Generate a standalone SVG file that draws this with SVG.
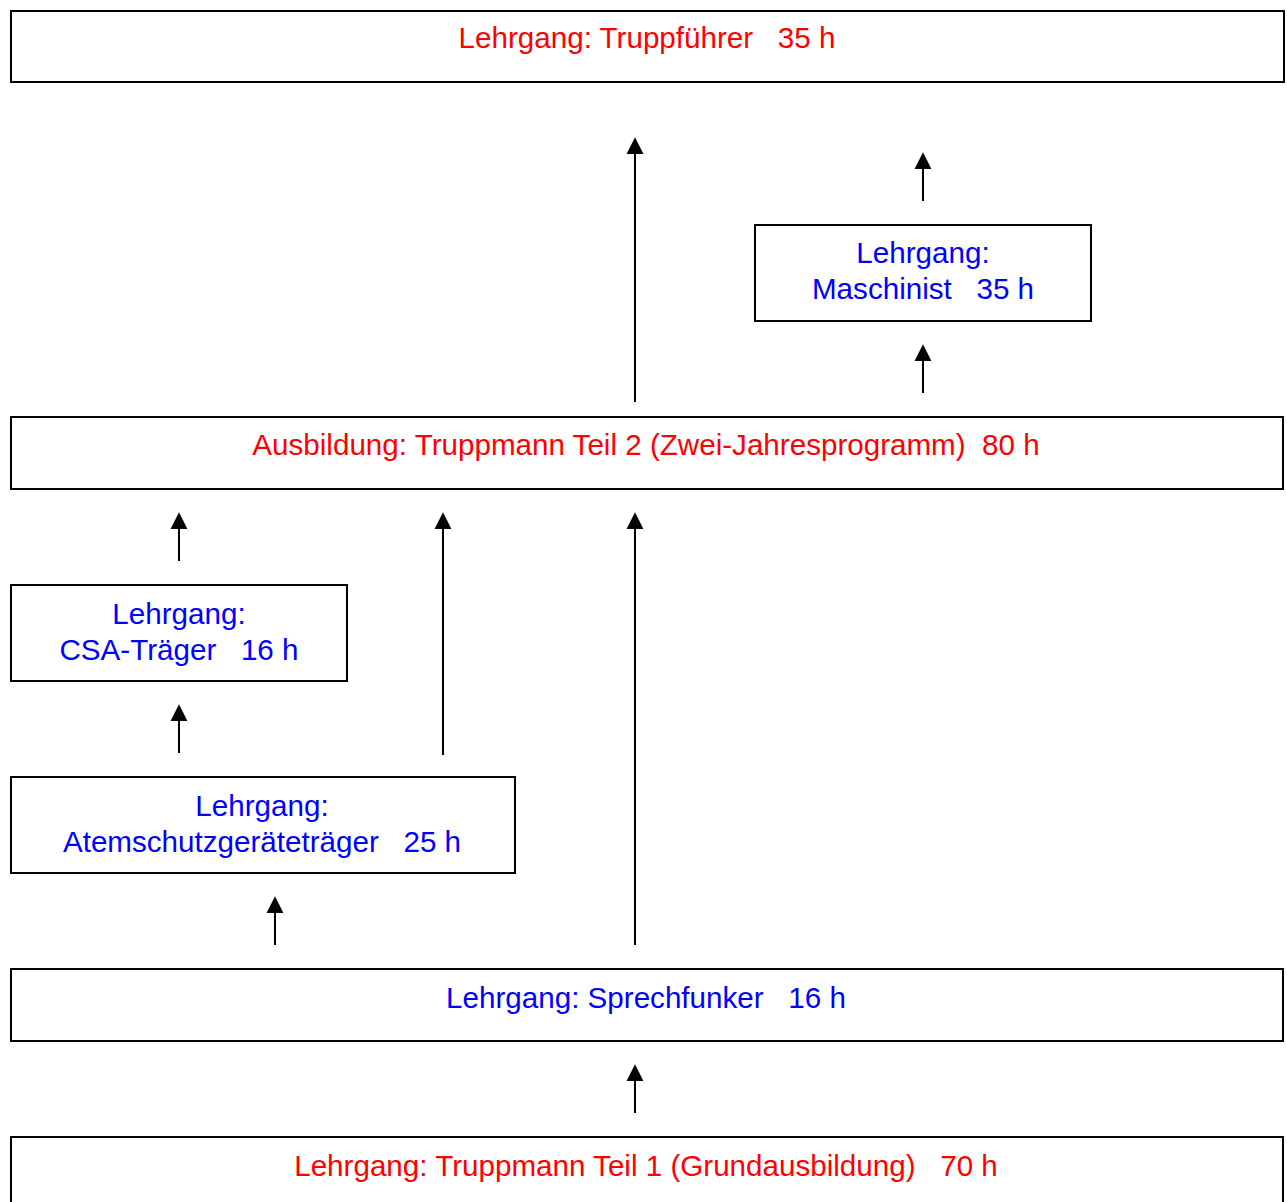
<svg xmlns="http://www.w3.org/2000/svg" width="1287" height="1202" viewBox="0 0 1287 1202">
<style>
.box{fill:#fff;stroke:#000;stroke-width:2}
.t{font-family:"Liberation Sans",Arial,sans-serif;font-size:29.6px;text-anchor:middle;white-space:pre}
.red{fill:#ff0000}
.blue{fill:#0000ff}
.c{stroke:#000;stroke-width:2;fill:none;marker-end:url(#ah)}
</style>
<defs>
<marker id="ah" markerUnits="userSpaceOnUse" markerWidth="18" markerHeight="18" viewBox="0 -8 16 16" refX="0" refY="0" orient="auto" overflow="visible">
<path d="M0,-7.5 L15,0 L0,7.5 z" fill="#000"/>
</marker>
</defs>
<g id="n_truppfuehrer"><rect class="box" x="11" y="11" width="1273" height="71"/><text class="t red" x="647" y="48" xml:space="preserve">Lehrgang: Truppführer   35 h</text></g>
<g id="n_maschinist"><rect class="box" x="755" y="225" width="336" height="96"/><text class="t blue" x="923" y="263">Lehrgang:</text><text class="t blue" x="923" y="299" xml:space="preserve">Maschinist   35 h</text></g>
<g id="n_truppmann2"><rect class="box" x="11" y="417" width="1272" height="72"/><text class="t red" x="646" y="455" xml:space="preserve">Ausbildung: Truppmann Teil 2 (Zwei-Jahresprogramm)  80 h</text></g>
<g id="n_csa"><rect class="box" x="11" y="585" width="336" height="96"/><text class="t blue" x="179" y="624">Lehrgang:</text><text class="t blue" x="179" y="660" xml:space="preserve">CSA-Träger   16 h</text></g>
<g id="n_atemschutz"><rect class="box" x="11" y="777" width="504" height="96"/><text class="t blue" x="262" y="816">Lehrgang:</text><text class="t blue" x="262" y="852" xml:space="preserve">Atemschutzgeräteträger   25 h</text></g>
<g id="n_sprechfunker"><rect class="box" x="11" y="969" width="1272" height="72"/><text class="t blue" x="646" y="1008" xml:space="preserve">Lehrgang: Sprechfunker   16 h</text></g>
<g id="n_truppmann1"><rect class="box" x="11" y="1137" width="1272" height="80"/><text class="t red" x="646" y="1176" xml:space="preserve">Lehrgang: Truppmann Teil 1 (Grundausbildung)   70 h</text></g>
<g id="connectors">
<line class="c" x1="635" y1="402" x2="635" y2="154"/>
<line class="c" x1="923" y1="201" x2="923" y2="169"/>
<line class="c" x1="923" y1="393" x2="923" y2="361"/>
<line class="c" x1="179" y1="561" x2="179" y2="529"/>
<line class="c" x1="443" y1="755" x2="443" y2="529"/>
<line class="c" x1="635" y1="945" x2="635" y2="529"/>
<line class="c" x1="179" y1="753" x2="179" y2="721"/>
<line class="c" x1="275" y1="945" x2="275" y2="913"/>
<line class="c" x1="635" y1="1113" x2="635" y2="1081"/>
</g>
</svg>
